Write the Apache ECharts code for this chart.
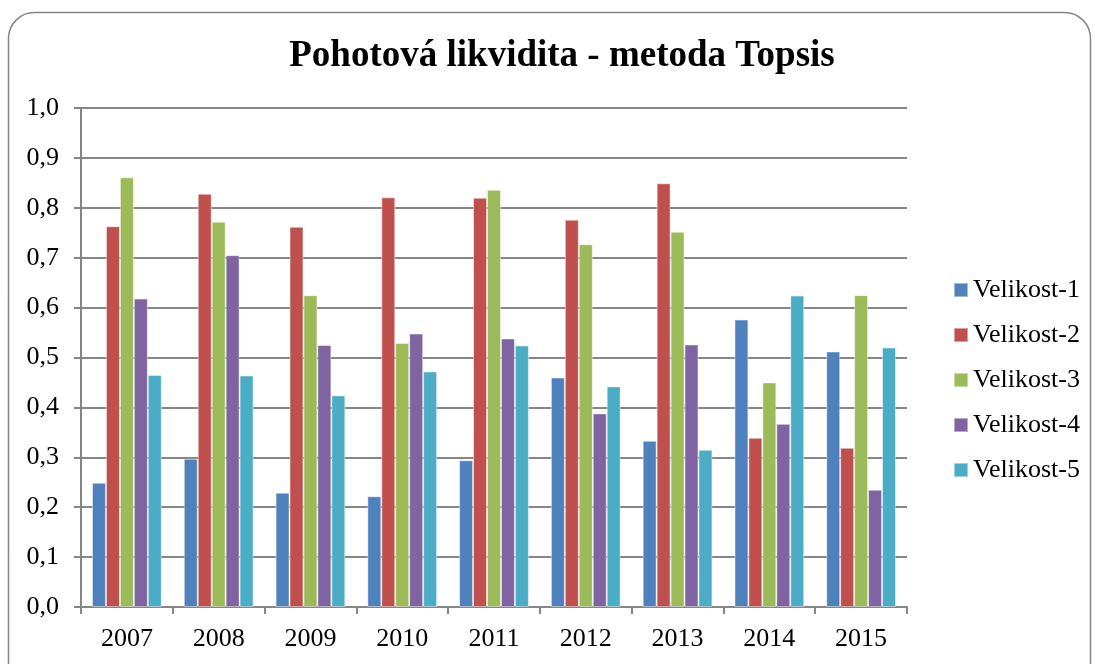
<!DOCTYPE html>
<html>
<head>
<meta charset="utf-8">
<script src="https://cdn.jsdelivr.net/npm/echarts@6/dist/echarts.min.js"></script>
<style>
  html, body { margin: 0; padding: 0; background: #fff; }
  #chart { width: 1095px; height: 664px; }
</style>
</head>
<body>
<div id="chart"></div>
<script>
// data
var years = ['2007', '2008', '2009', '2010', '2011', '2012', '2013', '2014', '2015']
var velikost1 = [0.249, 0.297, 0.229, 0.222, 0.294, 0.460, 0.333, 0.576, 0.512]
var velikost2 = [0.763, 0.828, 0.762, 0.821, 0.820, 0.776, 0.849, 0.339, 0.319]
var velikost3 = [0.861, 0.772, 0.625, 0.529, 0.836, 0.727, 0.752, 0.450, 0.625]
var velikost4 = [0.618, 0.705, 0.525, 0.548, 0.538, 0.388, 0.526, 0.367, 0.235]
var velikost5 = [0.465, 0.464, 0.424, 0.472, 0.524, 0.442, 0.315, 0.624, 0.520]
var seriesNames = ['Velikost-1', 'Velikost-2', 'Velikost-3', 'Velikost-4', 'Velikost-5']
var colors = ['#4F81BD', '#C0504D', '#9BBB59', '#8064A2', '#4BACC6']

var font = '"Liberation Serif", "DejaVu Serif", serif'
var gray = '#868686'

var chart = echarts.init(document.getElementById('chart'), null, { renderer: 'canvas' })

function bar(name, data) {
  return {
    name: name,
    type: 'bar',
    data: data,
    barGap: '0%',
    barCategoryGap: '24%',
    itemStyle: { borderColor: 'rgba(255,255,255,0.45)', borderWidth: 1 }
  }
}

var option = {
  backgroundColor: '#ffffff',
  color: colors,
  animation: false,
  title: {
    text: 'Pohotová likvidita - metoda Topsis',
    left: 557,
    textAlign: 'center',
    top: 33,
    textStyle: { fontFamily: font, fontSize: 37, fontWeight: 'bold', color: '#000' }
  },
  graphic: [{
    type: 'rect',
    shape: { x: 8.5, y: 12.5, width: 1082, height: 720, r: 26 },
    style: { fill: 'none', stroke: gray, lineWidth: 1.5 },
    silent: true
  }],
  legend: {
    orient: 'vertical',
    left: 948,
    top: 272,
    itemWidth: 14,
    itemHeight: 14,
    itemGap: 19,
    icon: 'rect',
    textStyle: { fontFamily: font, fontSize: 26, color: '#000', lineHeight: 26 },
    data: seriesNames
  },
  grid: { left: 81, right: 188, top: 108, bottom: 57 },
  xAxis: {
    type: 'category',
    data: years,
    axisLine: { lineStyle: { color: gray, width: 2 } },
    axisTick: { show: true, length: 7, lineStyle: { color: gray, width: 2 } },
    axisLabel: { fontFamily: font, fontSize: 26, color: '#000', margin: 19 }
  },
  yAxis: {
    type: 'value',
    min: 0,
    max: 1,
    interval: 0.1,
    axisLine: { show: true, lineStyle: { color: gray, width: 2 } },
    axisTick: { show: true, length: 7, lineStyle: { color: gray, width: 2 } },
    splitLine: { lineStyle: { color: gray, width: 2 } },
    axisLabel: {
      fontFamily: font, fontSize: 26, color: '#000', margin: 22,
      formatter: function (v) { return v.toFixed(1).replace('.', ',') }
    }
  },
  series: [
    bar(seriesNames[0], velikost1),
    bar(seriesNames[1], velikost2),
    bar(seriesNames[2], velikost3),
    bar(seriesNames[3], velikost4),
    bar(seriesNames[4], velikost5)
  ]
}

chart.setOption(option)
</script>
</body>
</html>
